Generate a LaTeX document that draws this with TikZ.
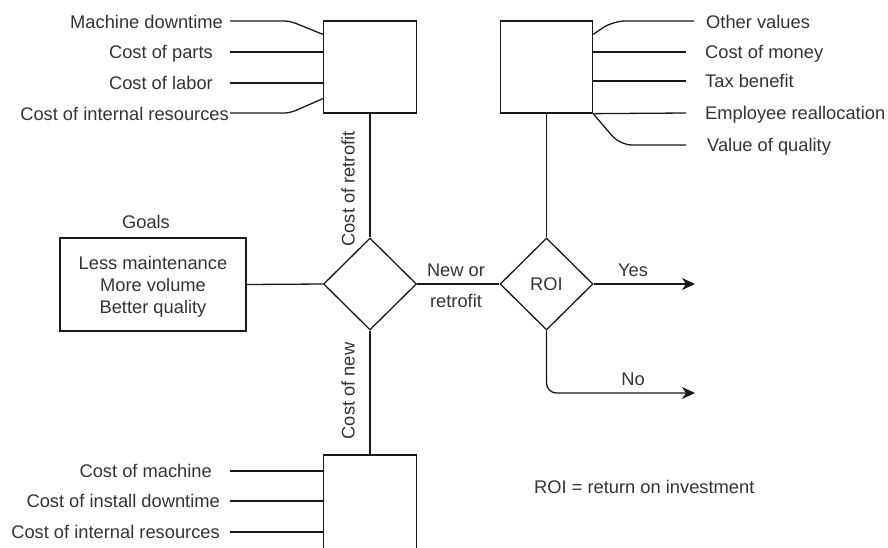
\documentclass[tikz,border=0pt]{standalone}
\usepackage{fontspec}
\setmainfont{Liberation Sans}
\usetikzlibrary{shapes.geometric,arrows.meta,calc}
\begin{document}
\begin{tikzpicture}[x=1pt,y=-1pt,
  font=\fontsize{18.3}{22}\selectfont,
  line/.style={draw=black!90,line width=1.3pt},
  box/.style={line,rectangle,inner sep=0pt},
  decision/.style={line,diamond,aspect=1,minimum width=93pt,minimum height=92pt,
    inner sep=0pt,text height=13.2pt,text depth=0pt,text=black!80},
  lbl/.style={inner sep=0pt,text height=13.2pt,text depth=0pt,text=black!80},
  arr/.style={line,-{Stealth[length=13pt,width=12pt,inset=4pt]}},
]
\clip (0,0) rectangle (888,547);

% blocks
\node[box,minimum width=93pt,minimum height=92pt] (retro) at (370,67) {};
\node[box,minimum width=92pt,minimum height=92pt] (vals) at (546.5,67) {};
\node[box,minimum width=93pt,minimum height=110pt] (newm) at (370,510) {};
\node[decision] (choice) at (370,284) {};
\node[decision] (roi) at (546.5,284) {ROI};
\node[box,minimum width=186pt,minimum height=93pt,align=center,
  text=black!80,text depth=0pt] (goals) at (153,284.5)
  {Less maintenance\\More volume\\Better quality};
\node[lbl] (goalst) at (146,222) {Goals};

% main flow
\draw[line] (retro.south) -- (choice.north);
\draw[line] (choice.south) -- (newm.north);
\draw[line] (goals.east) -- (choice.west);
\draw[line] (choice.east) -- (roi.west);
\draw[line] (vals.south) -- (roi.north);
\coordinate (yes) at (695,284);
\coordinate (no) at (695,393);
\draw[arr] (roi.east) -- (yes);
\draw[arr,rounded corners=10pt] (roi.south) |- (no);

% flow labels
\node[lbl] (nw1) at (456,270) {New or};
\node[lbl] (nw2) at (456,300.5) {retrofit};
\node[lbl] (yest) at (633,270) {Yes};
\node[lbl] (not) at (633,379) {No};
\node[lbl,rotate=90] (cr) at (348,189) {Cost of retrofit};
\node[lbl,rotate=90] (cn) at (348,391) {Cost of new};
\node[lbl,anchor=west] (legend) at (534,487) {ROI = return on investment};

% retrofit cost inputs
\node[lbl,anchor=east] (r1) at (223,22) {Machine downtime};
\node[lbl,anchor=east] (r2) at (213,52) {Cost of parts};
\node[lbl,anchor=east] (r3) at (213,83) {Cost of labor};
\node[lbl,anchor=east] (r4) at (229,114) {Cost of internal resources};
\coordinate (r1s) at (230,21);
\coordinate (r2s) at (230,52);
\coordinate (r3s) at (230,83);
\coordinate (r4s) at (230,113);
\draw[line,rounded corners=6pt] (r1s) -- (290,21) -- ($(retro.north west)+(0,14)$);
\draw[line] (r2s) -- (r2s -| retro.west);
\draw[line] (r3s) -- (r3s -| retro.west);
\draw[line,rounded corners=6pt] (r4s) -- (290,113) -- ($(retro.south west)+(0,-15)$);

% value inputs
\node[lbl,anchor=west] (v1) at (706,21.5) {Other values};
\node[lbl,anchor=west] (v2) at (705,52) {Cost of money};
\node[lbl,anchor=west] (v3) at (705,81) {Tax benefit};
\node[lbl,anchor=west] (v4) at (705,113) {Employee reallocation};
\node[lbl,anchor=west] (v5) at (707,145) {Value of quality};
\coordinate (v1e) at (694,21);
\coordinate (v2e) at (686,52);
\coordinate (v3e) at (686,81);
\coordinate (v4e) at (686,113);
\coordinate (v5e) at (686,145);
\draw[line,rounded corners=12pt] ($(vals.north east)+(0,14)$) -- (613,21) -- (v1e);
\draw[line] (v2e -| vals.east) -- (v2e);
\draw[line] (v3e -| vals.east) -- (v3e);
\draw[line] (vals.south east) -- (v4e);
\draw[line,rounded corners=12pt] (vals.south east) -- (620,145) -- (v5e);

% new machine cost inputs
\node[lbl,anchor=east] (n1) at (212,471) {Cost of machine};
\node[lbl,anchor=east] (n2) at (220,501) {Cost of install downtime};
\node[lbl,anchor=east] (n3) at (220,532) {Cost of internal resources};
\coordinate (n1s) at (230,471);
\coordinate (n2s) at (230,501);
\coordinate (n3s) at (230,532);
\draw[line] (n1s) -- (n1s -| newm.west);
\draw[line] (n2s) -- (n2s -| newm.west);
\draw[line] (n3s) -- (n3s -| newm.west);
\end{tikzpicture}
\end{document}
